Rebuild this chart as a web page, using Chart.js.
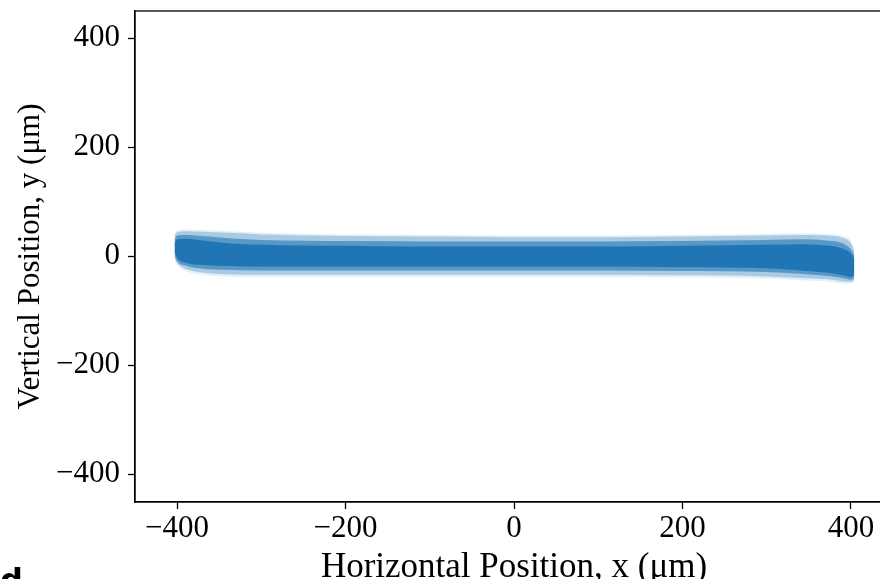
<!DOCTYPE html>
<html>
<head>
<meta charset="utf-8">
<script src="https://cdn.jsdelivr.net/npm/chart.js@4/dist/chart.umd.min.js"></script>
<style>
  html, body { margin: 0; padding: 0; background: #fff; overflow: hidden; width: 880px; height: 579px; }
  #wrap { position: relative; width: 880px; height: 579px; overflow: hidden; }
  canvas { position: absolute; left: 0; top: 0; }
  #panel { position: absolute; left: 0px; top: 564px; font-family: "DejaVu Sans", sans-serif; font-weight: bold; font-size: 32px; color: #000; line-height: 1; }
</style>
</head>
<body>
<div id="wrap">
  <canvas id="c" width="900" height="579"></canvas>
  <div id="panel">d</div>
</div>
<script>
// Band envelope (µm)
const xPos      = [-403, -400, -390, -370, -340, -300, -200, -100,   0, 100, 200, 300, 340, 370, 390, 400, 404];
const faintTop  = [  42,   47,   49,   48,   46,   43,   40,   39,  38,  38,  39,  41,  42,  41,  37,  28,  14];
const outerTop  = [  38,   44,   46,   45,   43,   40,   37,   36,  35,  35,  36,  38,  39,  38,  34,  24,  10];
const midTop    = [  31,   38,   39,   37,   33,   30,   28,   27,  27,  27,  28,  30,  31,  29,  24,  13,   2];
const coreTop   = [  24,   31,   32,   29,   24,   21,   19,   18,  18,  18,  19,  21,  22,  20,  14,   5,  -4];
const coreBot   = [   8,   -3,  -12,  -16,  -18,  -19,  -19,  -19, -19, -19, -20, -22, -26, -30, -35, -38, -35];
const midBot    = [   2,   -9,  -17,  -23,  -25,  -26,  -26,  -26, -26, -26, -27, -29, -32, -36, -40, -43, -40];
const outerBot  = [  -3,  -12,  -23,  -30,  -33,  -34,  -34,  -34, -34, -34, -35, -37, -40, -42, -46, -47, -43];
const faintBot  = [  -7,  -16,  -27,  -34,  -37,  -38,  -38,  -38, -38, -38, -39, -41, -44, -46, -50, -50, -46];

const xTicks = [-400, -200, 0, 200, 400];
const yTicks = [-400, -200, 0, 200, 400];
const xRange = [-450, 450];
const yRange = [-451, 450];

const pts = arr => arr.map((v, i) => ({ x: xPos[i], y: v }));
const blue = a => `rgba(31,119,180,${a})`;

function band(top, bot, alpha) {
  return [
    { data: pts(top), fill: '+1', backgroundColor: blue(alpha), borderWidth: 0, pointRadius: 0, cubicInterpolationMode: 'monotone' },
    { data: pts(bot), fill: false, borderWidth: 0, pointRadius: 0, cubicInterpolationMode: 'monotone' }
  ];
}

const fmt = v => String(v).replace('-', '\u2212');
const tickFont = { family: 'Liberation Serif', size: 31 };
const xTitleFont = { family: 'Liberation Serif', size: 35 };

const frame = {
  id: 'frame',
  afterDraw(chart) {
    const { ctx, chartArea: a } = chart;
    ctx.save();
    ctx.strokeStyle = '#000';
    ctx.lineWidth = 1.3;
    ctx.strokeRect(a.left, a.top, a.right - a.left, a.bottom - a.top);
    ctx.restore();
  }
};

new Chart(document.getElementById('c'), {
  type: 'line',
  data: {
    datasets: [
      ...band(faintTop, faintBot, 0.12),
      ...band(outerTop, outerBot, 0.3),
      ...band(midTop, midBot, 0.6),
      ...band(coreTop, coreBot, 0.97)
    ]
  },
  options: {
    responsive: false,
    animation: false,
    layout: { padding: { top: 11, right: 7, left: 0, bottom: 0 } },
    plugins: { legend: { display: false }, tooltip: { enabled: false } },
    scales: {
      x: {
        type: 'linear', min: xRange[0], max: xRange[1],
        afterBuildTicks: s => { s.ticks = xTicks.map(v => ({ value: v })); },
        afterFit: s => { s.height = 77; s.paddingLeft = 0; s.paddingRight = 0; },
        border: { color: '#000', width: 1.3 },
        grid: { drawOnChartArea: false, drawTicks: true, tickLength: 7, tickColor: '#000', tickWidth: 1.3 },
        ticks: { color: '#000', font: tickFont, padding: 1, maxRotation: 0, callback: v => fmt(v) },
        title: { display: true, text: 'Horizontal Position, x (\u03bcm)', color: '#000', font: xTitleFont, padding: { top: 0, bottom: -10 } }
      },
      y: {
        type: 'linear', min: yRange[0], max: yRange[1],
        afterBuildTicks: s => { s.ticks = yTicks.map(v => ({ value: v })); },
        afterFit: s => { s.width = 135; s.paddingTop = 0; s.paddingBottom = 0; },
        border: { color: '#000', width: 1.3 },
        grid: { drawOnChartArea: false, drawTicks: true, tickLength: 7, tickColor: '#000', tickWidth: 1.3 },
        ticks: { color: '#000', font: tickFont, padding: 8, callback: v => fmt(v) },
        title: { display: true, text: 'Vertical Position, y (\u03bcm)', color: '#000', font: tickFont, padding: { top: 12, bottom: 0 } }
      }
    }
  },
  plugins: [frame]
});
</script>
</body>
</html>
